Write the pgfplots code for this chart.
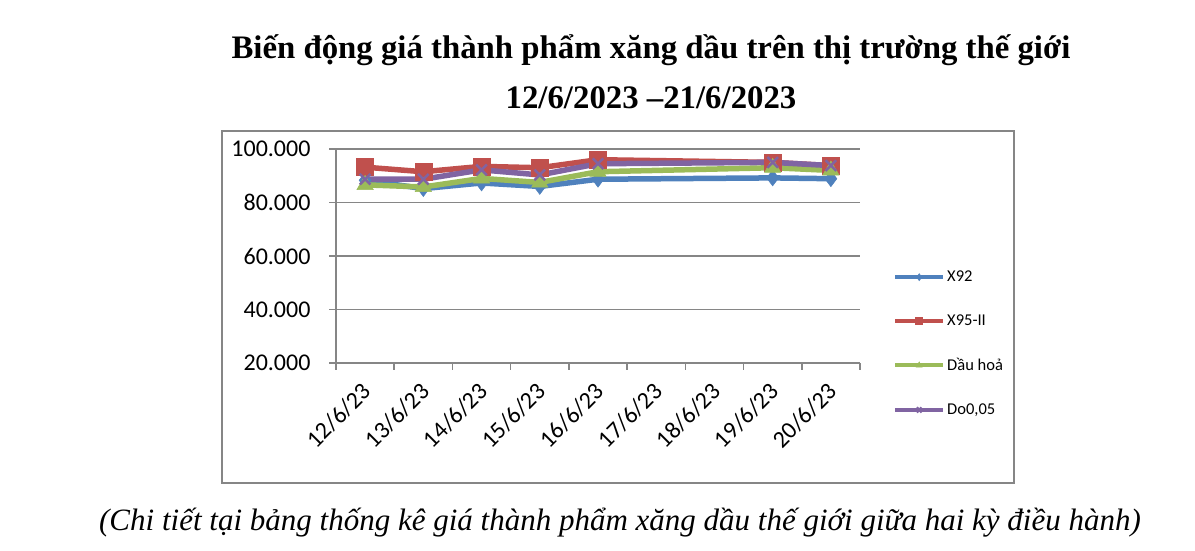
\documentclass[border=0pt]{standalone}
\usepackage{fontspec}
\usepackage{pgfplots}
\pgfplotsset{compat=1.18}
\setmainfont{Liberation Serif}
\newfontfamily\calibri{Carlito}

\definecolor{cBlue}{HTML}{4F81BD}
\definecolor{cRed}{HTML}{C0504D}
\definecolor{cGreen}{HTML}{9BBB59}
\definecolor{cPurple}{HTML}{8064A2}
\definecolor{gridgray}{HTML}{868686}

\begin{document}
\begin{tikzpicture}
\path[use as bounding box] (0,0) rectangle (1195pt,551pt);

% chart frame
\draw[gridgray, line width=1.5pt] (222pt,68pt) rectangle (1014pt,420pt);

% titles
\node[anchor=base, font=\bfseries\fontsize{32.8}{33}\selectfont] at (651pt,492pt)
  {Biến động giá thành phẩm xăng dầu trên thị trường thế giới};
\node[anchor=base, font=\bfseries\fontsize{32.8}{33}\selectfont] at (651pt,442pt)
  {12/6/2023 –21/6/2023};
\node[anchor=base, font=\itshape\fontsize{31}{31}\selectfont] at (620pt,20pt)
  {(Chi tiết tại bảng thống kê giá thành phẩm xăng dầu thế giới giữa hai kỳ điều hành)};

\begin{axis}[
    at={(336pt,188pt)}, anchor=south west,
    scale only axis,
    width=524pt, height=214pt,
    xmin=-0.5, xmax=8.5,
    ymin=20, ymax=100,
    axis x line*=bottom, axis y line*=left,
    axis line style={draw=gridgray, line width=1.5pt, -},
    xtick={0,...,8},
    xticklabels={12/6/23,13/6/23,14/6/23,15/6/23,16/6/23,17/6/23,18/6/23,19/6/23,20/6/23},
    minor xtick={-0.5,0.5,...,8.5},
    ytick={20,40,60,80,100},
    yticklabels={20.000,40.000,60.000,80.000,100.000},
    minor ytick={20,40,60,80,100},
    tick align=outside,
    major tick length=0pt, minor tick length=7pt,
    tick style={draw=gridgray, line width=1.5pt},
    ymajorgrids=true,
    grid style={draw=gridgray, line width=1.5pt},
    tick label style={font=\calibri\fontsize{24}{24}\selectfont},
    yticklabel style={xshift=-22pt},
    xticklabel style={rotate=45, anchor=north east, yshift=-6.3pt, xshift=-12.5pt},
    clip=false,
    legend style={at={(axis description cs:1.063,0.44)}, anchor=north west,
        draw=none, fill=none, font=\calibri\fontsize{16.5}{16.5}\selectfont,
        row sep=27.5pt, inner sep=0pt},
    legend cell align=left,
    legend image code/.code={
        \draw[mark repeat=2, mark phase=2, #1, line width=4pt, mark size=3.5pt]
        plot coordinates {(0pt,0pt) (24pt,0pt) (48pt,0pt)};},
]
\addplot[color=cBlue, line width=5.5pt, mark=diamond*, mark size=8pt,
    mark options={line width=0.5pt}]
    coordinates {(0,88.3)(1,85.2)(2,87.3)(3,86.0)(4,88.7)(7,89.2)(8,88.9)};
\addplot[color=cRed, line width=5.5pt, mark=square*, mark size=8.5pt,
    mark options={line width=0.5pt}]
    coordinates {(0,93.2)(1,91.5)(2,93.5)(3,93.0)(4,96.0)(7,95.0)(8,93.8)};
\addplot[color=cGreen, line width=5.5pt, mark=triangle*, mark size=9.5pt,
    mark options={line width=0.5pt}]
    coordinates {(0,86.6)(1,85.8)(2,89.0)(3,87.5)(4,91.5)(7,93.0)(8,92.0)};
\addplot[color=cPurple, line width=5.5pt, mark=x, mark size=7.5pt,
    mark options={line width=2.5pt}]
    coordinates {(0,88.7)(1,88.7)(2,92.2)(3,90.3)(4,94.5)(7,95.0)(8,93.8)};
\legend{X92, X95-II, Dầu hoả, {Do0,05}}
\end{axis}
\end{tikzpicture}
\end{document}
